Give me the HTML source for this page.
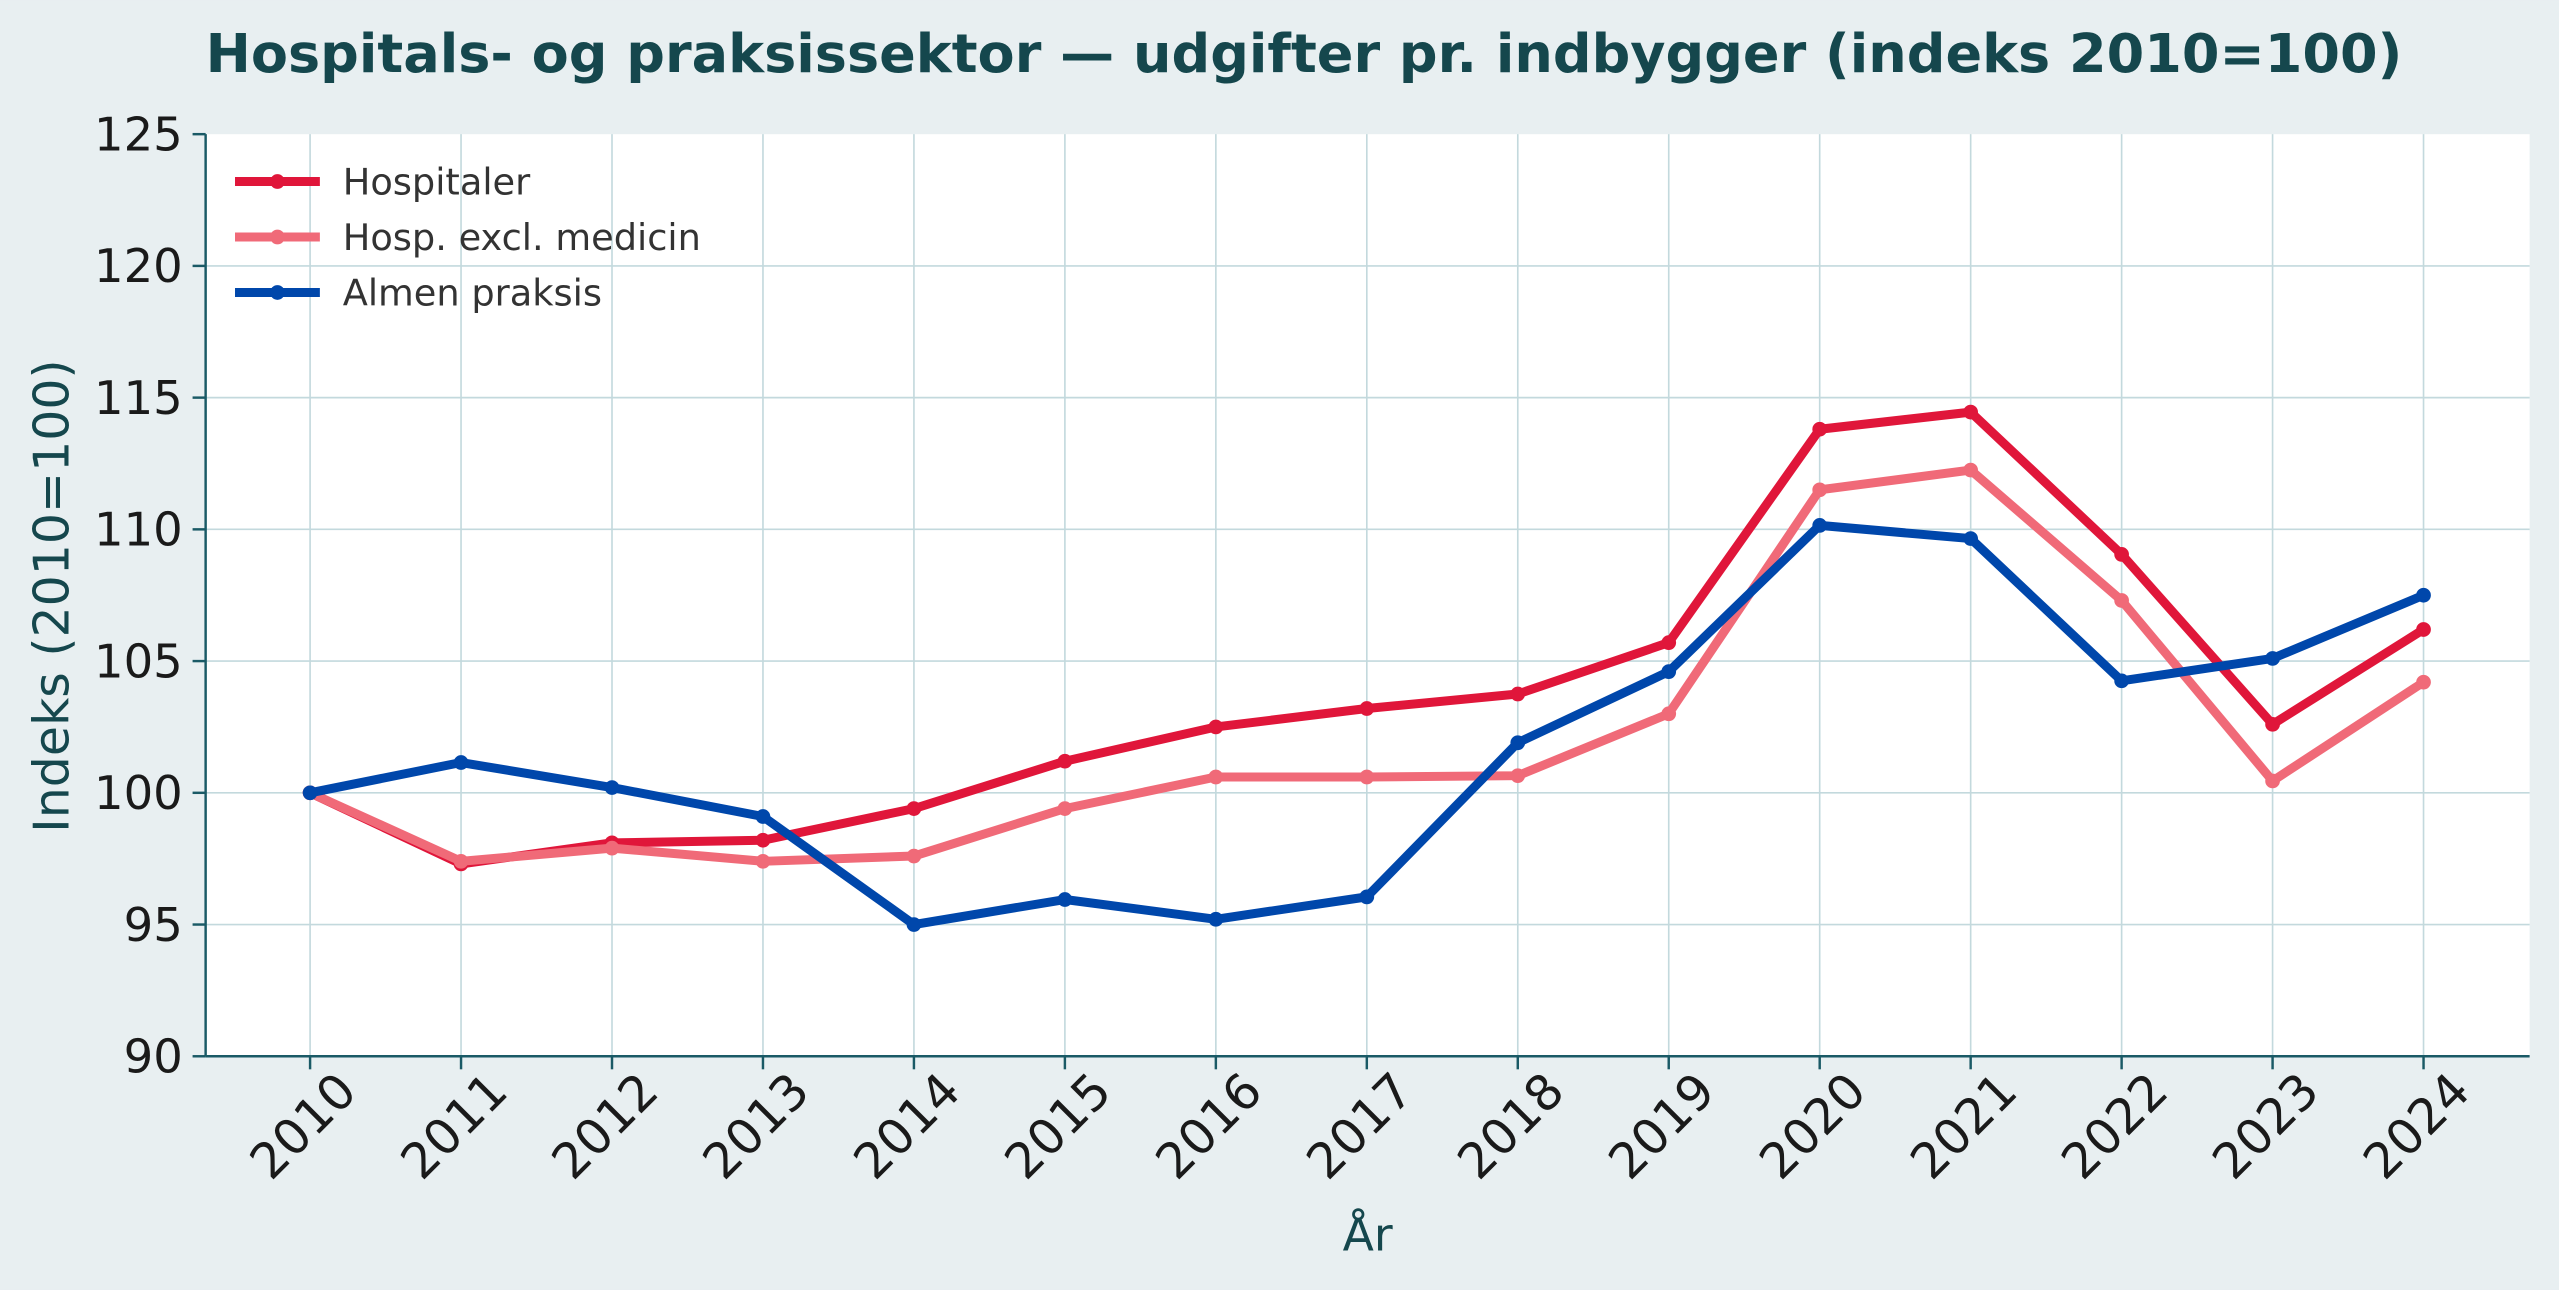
<!DOCTYPE html>
<html><head><meta charset="utf-8"><style>
html,body{margin:0;padding:0;background:#e8eff1;}
svg{display:block;}
text{font-family:"DejaVu Sans","Liberation Sans",sans-serif;}
</style></head><body>
<svg id="s" width="2559" height="1290" viewBox="0 0 1568 790" xmlns="http://www.w3.org/2000/svg">
<rect width="1568" height="790" fill="#e8eff1"/>
<text x="126" y="44" font-size="32.5" font-weight="bold" fill="#15474d" textLength="1346" lengthAdjust="spacingAndGlyphs">Hospitals- og praksissektor — udgifter pr. indbygger (indeks 2010=100)</text>
<rect x="126" y="82" width="1424" height="565" fill="#ffffff"/>
<g id="grid"></g>
<g id="series"></g>
<line x1="126" y1="82" x2="126" y2="647" stroke="#1a5a66" stroke-width="1.5"/>
<line x1="126" y1="647" x2="1550" y2="647" stroke="#1a5a66" stroke-width="1.5"/>
<text x="838" y="766" text-anchor="middle" font-size="28" fill="#15474d">År</text>
<text transform="translate(42,365) rotate(-90)" text-anchor="middle" font-size="30" fill="#15474d">Indeks (2010=100)</text>
<g font-size="22.5" fill="#333">
<line x1="144" y1="111" x2="196" y2="111" stroke="#e0163a" stroke-width="5.5"/><circle cx="170" cy="111" r="4.5" fill="#e0163a"/>
<text x="210" y="119">Hospitaler</text>
<line x1="144" y1="145" x2="196" y2="145" stroke="#f06a78" stroke-width="5.5"/><circle cx="170" cy="145" r="4.5" fill="#f06a78"/>
<text x="210" y="153">Hosp. excl. medicin</text>
<line x1="144" y1="179" x2="196" y2="179" stroke="#0047ab" stroke-width="5.5"/><circle cx="170" cy="179" r="4.5" fill="#0047ab"/>
<text x="210" y="187">Almen praksis</text>
</g>
</svg>
<script>
var NS="http://www.w3.org/2000/svg";
function el(p,t,a,txt){var e=document.createElementNS(NS,t);for(var k in a)e.setAttribute(k,a[k]);if(txt!=null)e.textContent=txt;p.appendChild(e);return e;}
var g=document.getElementById('grid'),s=document.getElementById('series');
function X(i){return 190+i*92.5;}
function Y(v){return 647-(v-90)*16.143;}
for(var v=90;v<=125;v+=5){var y=Y(v);
 if(v>90&&v<125)el(g,'line',{x1:126,x2:1550,y1:y,y2:y,stroke:'#c3d9dd','stroke-width':1});
 el(g,'line',{x1:118,x2:126,y1:y,y2:y,stroke:'#1a5a66','stroke-width':1.5});
 el(g,'text',{x:112,y:y+10,'text-anchor':'end','font-size':28.5,fill:'#1a1a1a'},v);}
for(var i=0;i<15;i++){var x=X(i);
 el(g,'line',{x1:x,x2:x,y1:82,y2:647,stroke:'#c3d9dd','stroke-width':1});
 el(g,'line',{x1:x,x2:x,y1:647,y2:655,stroke:'#1a5a66','stroke-width':1.5});
 el(g,'text',{transform:'translate('+(x+30)+',670) rotate(-45)','text-anchor':'end','font-size':30,fill:'#1a1a1a'},2010+i);}
var D=[
['#f06a78',[100,97.4,97.9,97.4,97.6,99.4,100.6,100.6,100.65,103.0,111.5,112.25,107.3,100.45,104.2]],
['#e0163a',[100,97.3,98.1,98.2,99.4,101.2,102.5,103.2,103.75,105.7,113.8,114.45,109.05,102.6,106.2]],
['#0047ab',[100,101.15,100.2,99.1,95.0,95.95,95.2,96.05,101.9,104.6,110.15,109.65,104.25,105.1,107.5]]];
[D[1],D[0],D[2]].forEach(function(d){var p=d[1].map(function(v,i){return X(i)+','+Y(v);}).join(' ');
 el(s,'polyline',{points:p,fill:'none',stroke:d[0],'stroke-width':5.5,'stroke-linejoin':'round'});
 d[1].forEach(function(v,i){el(s,'circle',{cx:X(i),cy:Y(v),r:4.5,fill:d[0]});});});
</script>
</body></html>
